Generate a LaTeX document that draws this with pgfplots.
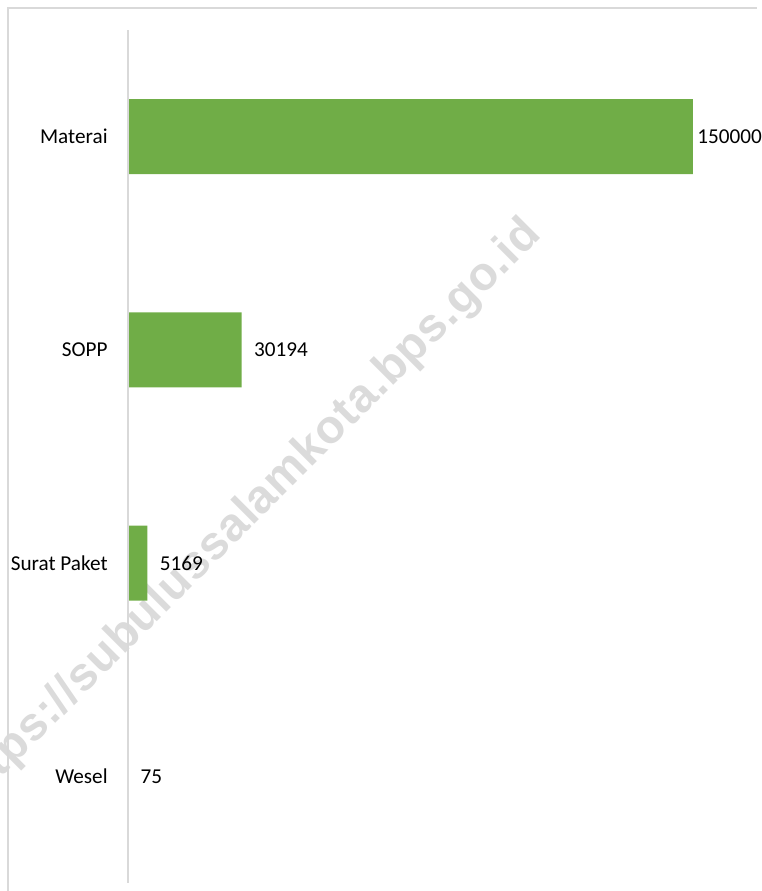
\documentclass[border=0pt]{standalone}
\usepackage{fontspec}
\setmainfont{Carlito}
\newfontfamily\wmfont[LetterSpace=1.5]{Liberation Sans}
\usepackage{pgfplots}
\pgfplotsset{compat=1.18}
\definecolor{bargreen}{HTML}{70AD47}
\definecolor{linegray}{HTML}{D9D9D9}
\definecolor{wmgray}{HTML}{DBDBDB}

\begin{document}
\begin{tikzpicture}
  \begin{scope}[x=0.5pt,y=-0.5pt]
    \clip (0,0) rectangle (757,891);
    % watermark
    \node[rotate=45, anchor=base east, text=wmgray, inner sep=0pt,
          font=\wmfont\bfseries\fontsize{23.5}{27}\selectfont] at (543,236)
          {https://subulussalamkota.bps.go.id};
    % frame (only top and left visible)
    \draw[linegray, line width=0.9pt] (8,891) -- (8,8) -- (757,8);
  \end{scope}
  \begin{axis}[
      at={(64pt,-441.5pt)}, anchor=south west,
      scale only axis, width=301.33pt, height=426.5pt,
      xbar, bar width=37.5pt, axis on top,
      xmin=0, xmax=160000, ymin=-0.5, ymax=3.5, y dir=reverse,
      axis x line=none, axis y line*=left,
      axis line style={-, draw=linegray, line width=0.75pt},
      xtick=\empty, ytick={0,1,2,3},
      yticklabels={Materai,SOPP,Surat Paket,Wesel},
      major tick length=0pt,
      yticklabel style={anchor=east, inner sep=0pt, xshift=-10pt,
                        font=\fontsize{10.6}{12}\selectfont},
      clip=false,
      point meta=explicit symbolic,
      nodes near coords,
      every node near coord/.append style={anchor=west, inner sep=0pt, xshift=6pt,
                        text=black, font=\fontsize{10.6}{12}\selectfont},
    ]
    \addplot[fill=bargreen, draw=none,
             coordinate style/.condition={\coordindex==0}{xshift=-4pt}]
      coordinates {(150000,0) [150000] (30194,1) [30194] (5169,2) [5169] (75,3) [75]};
  \end{axis}
\end{tikzpicture}
\end{document}
